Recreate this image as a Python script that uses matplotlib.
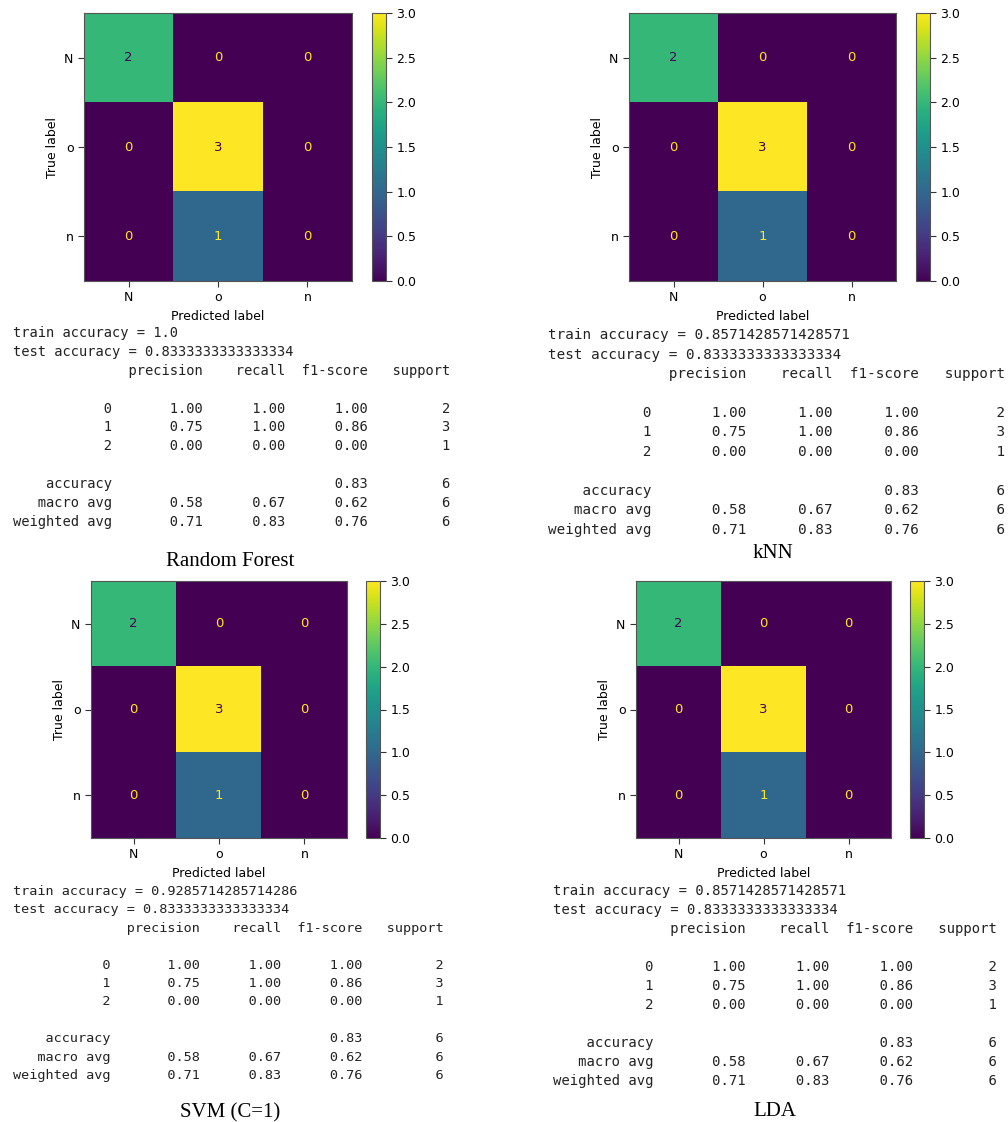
import numpy as np
import matplotlib
matplotlib.use('Agg')
import matplotlib.pyplot as plt

# confusion matrix (same for every model)
labels = ['N', 'o', 'n']
cm = np.array([[2, 0, 0],
               [0, 3, 0],
               [0, 1, 0]])

# classification report values
class_names = ['0', '1', '2']
precision = [1.00, 0.75, 0.00]
recall = [1.00, 1.00, 0.00]
f1 = [1.00, 0.86, 0.00]
support = [2, 3, 1]
accuracy = 0.83
macro_avg = [0.58, 0.67, 0.62]
weighted_avg = [0.71, 0.83, 0.76]
total = 6

models = ['Random Forest', 'kNN', 'SVM (C=1)', 'LDA']
train_acc = ['1.0', '0.8571428571428571', '0.9285714285714286', '0.8571428571428571']
test_acc = ['0.8333333333333334'] * 4

W, H = 1008, 1122
fig = plt.figure(figsize=(W / 100, H / 100), dpi=100)


def px_axes(x0, y0, x1, y1):
    return fig.add_axes([x0 / W, 1 - y1 / H, (x1 - x0) / W, (y1 - y0) / H])


def report_lines(train, test):
    width = 12
    lines = [f'train accuracy = {train}', f'test accuracy = {test}']
    head = '{:>{w}s} '.format('', w=width) + ''.join(' {:>9}'.format(h) for h in
                                                     ['precision', 'recall', 'f1-score', 'support'])
    lines.append(head)
    lines.append('')
    for i, c in enumerate(class_names):
        lines.append('{:>{w}s} '.format(c, w=width) +
                     ' {:>9.2f} {:>9.2f} {:>9.2f} {:>9}'.format(precision[i], recall[i], f1[i], support[i]))
    lines.append('')
    lines.append('{:>{w}s} '.format('accuracy', w=width) +
                 ' {:>9} {:>9} {:>9.2f} {:>9}'.format('', '', accuracy, total))
    lines.append('{:>{w}s} '.format('macro avg', w=width) +
                 ' {:>9.2f} {:>9.2f} {:>9.2f} {:>9}'.format(*macro_avg, total))
    lines.append('{:>{w}s} '.format('weighted avg', w=width) +
                 ' {:>9.2f} {:>9.2f} {:>9.2f} {:>9}'.format(*weighted_avg, total))
    return lines


def draw_cm(box, cbox):
    ax = px_axes(*box)
    cax = px_axes(*cbox)
    cmap = plt.get_cmap('viridis')
    im = ax.imshow(cm, cmap=cmap, aspect='auto', interpolation='nearest')
    thresh = (cm.max() + cm.min()) / 2.0
    for i in range(3):
        for j in range(3):
            col = cmap(0.0) if cm[i, j] > thresh else cmap(1.0)
            ax.text(j, i, str(cm[i, j]), ha='center', va='center', color=col, fontsize=9.5)
    ax.set_xticks(range(3))
    ax.set_yticks(range(3))
    ax.set_xticklabels(labels)
    ax.set_yticklabels(labels)
    ax.set_xlabel('Predicted label', fontsize=9)
    ax.set_ylabel('True label', fontsize=9)
    ax.tick_params(labelsize=9, length=4, color='#333333')
    for s in ax.spines.values():
        s.set_color('#555555')
    cb = fig.colorbar(im, cax=cax)
    cb.set_ticks(np.arange(0, 3.01, 0.5))
    cb.ax.tick_params(labelsize=9, length=4, color='#333333')
    cb.outline.set_edgecolor('#555555')


# panel layout in pixels
boxes = [(84, 13, 352, 281), (629, 13, 896, 281), (91, 581, 347, 838), (636, 581, 891, 838)]
cboxes = [(372, 13, 386, 281), (916, 13, 930, 281), (366, 581, 380, 838), (910, 581, 924, 838)]
text_x = [13, 548, 13, 553]
text_y0 = [333, 335, 891, 891]
text_step = [18.9, 19.5, 18.4, 19.0]
text_size = [9.9, 10.3, 9.7, 10.0]
cap_xy = [(230, 566), (773, 558), (230, 1117), (775, 1116)]

for k in range(4):
    draw_cm(boxes[k], cboxes[k])
    for i, line in enumerate(report_lines(train_acc[k], test_acc[k])):
        if not line:
            continue
        y = text_y0[k] + i * text_step[k] + 4
        fig.text(text_x[k] / W, 1 - y / H, line, family='DejaVu Sans Mono',
                 fontsize=text_size[k], color='#222222', va='baseline', ha='left')
    fig.text(cap_xy[k][0] / W, 1 - cap_xy[k][1] / H, models[k], family='Liberation Serif',
             fontsize=15, ha='center', va='baseline')

fig.savefig('out.png', dpi=100)
